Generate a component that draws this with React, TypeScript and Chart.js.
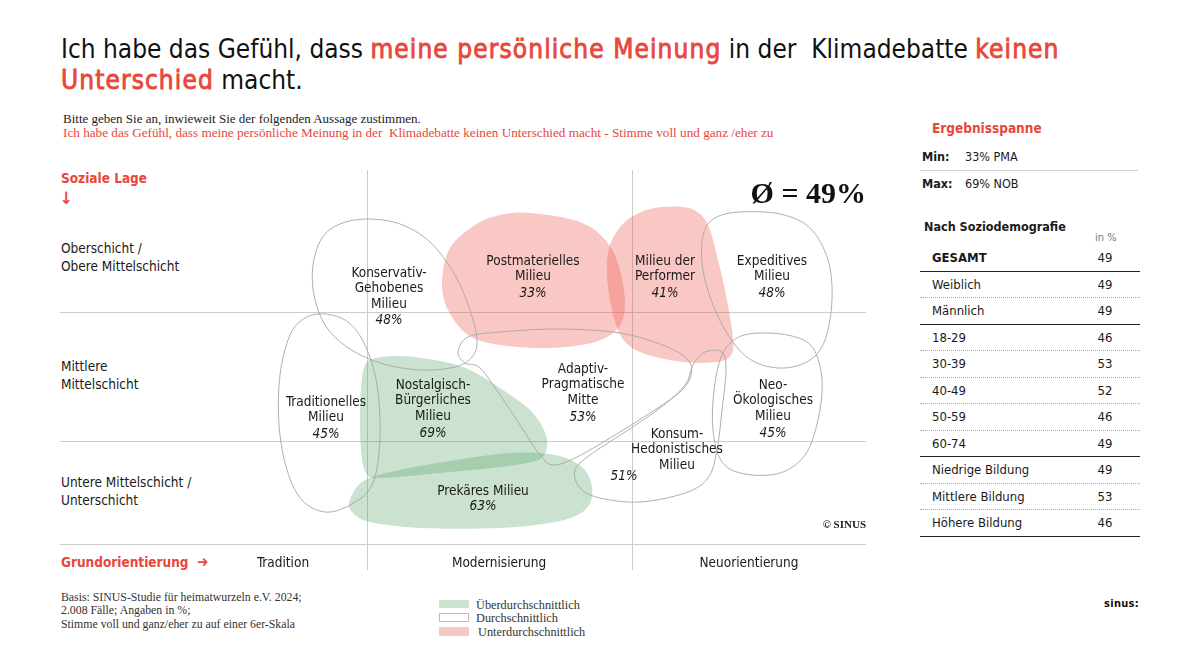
import React, { useEffect, useRef } from "react";
import { Chart, registerables } from "chart.js";

Chart.register(...registerables);

const RED = "#E8473B";
const SANS = "'DejaVu Sans Condensed', 'DejaVu Sans', sans-serif";
const SERIF = "'Liberation Serif', 'DejaVu Serif', serif";

// ---- Milieu data ----
const milieuNames = [
  "Konservativ-Gehobenes Milieu",
  "Postmaterielles Milieu",
  "Milieu der Performer",
  "Expeditives Milieu",
  "Traditionelles Milieu",
  "Nostalgisch-Bürgerliches Milieu",
  "Adaptiv-Pragmatische Mitte",
  "Neo-Ökologisches Milieu",
  "Konsum-Hedonistisches Milieu",
  "Prekäres Milieu",
];
const milieuValues = [48, 33, 41, 48, 45, 69, 53, 45, 51, 63];
const milieuClass = ["avg", "below", "below", "avg", "avg", "above", "avg", "avg", "avg", "above"];
const milieuLines = [
  ["Konservativ-", "Gehobenes", "Milieu"],
  ["Postmaterielles", "Milieu"],
  ["Milieu der", "Performer"],
  ["Expeditives", "Milieu"],
  ["Traditionelles", "Milieu"],
  ["Nostalgisch-", "Bürgerliches", "Milieu"],
  ["Adaptiv-", "Pragmatische", "Mitte"],
  ["Neo-", "Ökologisches", "Milieu"],
  ["Konsum-", "Hedonistisches", "Milieu"],
  ["Prekäres Milieu"],
];
const labelX = [32.9, 47.3, 60.5, 71.2, 26.6, 37.3, 52.3, 71.3, 61.7, 42.3];
const labelY = [10.3, 9.1, 9.1, 9.1, 23.2, 21.5, 19.9, 21.5, 26.4, 32.1];
const pctX = [32.9, 47.3, 60.5, 71.2, 26.6, 37.3, 52.3, 71.3, 56.4, 42.3];
const pctY = [15.0, 12.3, 12.3, 12.3, 26.4, 26.3, 24.7, 26.3, 30.6, 33.6];

// Milieu outlines on the map (x: Grundorientierung, y: soziale Lage, downwards)
const outlineKonservativ = [[30.7, 4.9], [34.0, 5.4], [37.0, 7.2], [39.5, 10.5], [41.0, 14.0], [41.7, 17.0], [41.2, 18.7], [39.5, 19.7], [36.0, 20.0], [32.0, 19.3], [28.7, 17.7], [26.5, 15.5], [25.4, 12.5], [25.3, 9.5], [26.2, 6.8], [28.0, 5.4]];
const outlinePostmateriell = [[47.0, 4.3], [52.0, 5.2], [54.7, 7.2], [56.0, 10.0], [56.5, 13.5], [55.8, 15.8], [53.5, 17.2], [49.0, 17.8], [44.0, 17.5], [40.8, 16.5], [38.8, 14.0], [38.2, 11.2], [39.0, 7.8], [41.5, 5.5], [44.0, 4.5]];
const outlinePerformer = [[62.3, 3.7], [64.0, 4.4], [65.0, 6.0], [65.8, 9.0], [66.6, 12.5], [67.2, 16.0], [67.3, 18.0], [66.5, 19.0], [64.0, 19.3], [61.0, 19.0], [58.0, 18.2], [56.2, 16.8], [55.2, 14.0], [54.7, 10.5], [55.0, 7.5], [56.5, 5.2], [59.0, 3.9]];
const outlineExpeditiv = [[68.0, 4.2], [72.0, 4.4], [75.0, 5.8], [76.8, 9.0], [77.2, 13.0], [76.5, 17.0], [75.0, 19.0], [72.5, 19.8], [69.7, 19.3], [67.5, 17.5], [65.5, 14.0], [64.3, 10.0], [64.3, 6.5], [65.5, 4.8]];
const outlineTraditionell = [[26.5, 14.4], [28.8, 15.2], [30.5, 17.5], [31.7, 21.5], [32.0, 27.0], [31.2, 31.5], [29.0, 33.5], [26.5, 34.2], [24.2, 33.0], [22.7, 30.0], [21.9, 25.5], [22.0, 20.5], [23.0, 16.5], [24.5, 14.8]];
const outlineNostalgisch = [[31.2, 18.9], [34.0, 18.6], [38.0, 19.1], [41.0, 20.0], [44.3, 22.0], [47.0, 24.0], [48.4, 26.0], [48.7, 27.7], [47.8, 29.0], [44.0, 29.7], [38.0, 30.3], [32.0, 30.8], [30.6, 30.3], [30.1, 28.0], [30.0, 25.0], [30.1, 22.0], [30.4, 19.8]];
const outlineAdaptiv = [[39.8, 18.2], [40.8, 16.7], [44.0, 16.2], [50.0, 15.9], [56.0, 16.3], [60.5, 17.6], [62.8, 19.0], [63.1, 20.5], [62.0, 22.2], [59.0, 24.3], [55.0, 26.8], [51.5, 28.8], [49.3, 29.5], [48.0, 28.5], [46.0, 25.5], [44.0, 22.5], [42.0, 19.8], [40.5, 19.3]];
const outlineNeoOeko = [[70.0, 16.3], [73.2, 16.6], [75.3, 17.8], [76.2, 21.0], [75.8, 25.0], [74.5, 28.5], [72.0, 30.3], [68.5, 30.4], [66.2, 29.2], [65.3, 26.0], [65.4, 22.0], [66.2, 18.5], [67.7, 16.8]];
const outlineKonsum = [[51.5, 30.0], [53.0, 28.5], [56.5, 26.2], [60.0, 23.8], [62.5, 21.5], [63.3, 19.5], [64.5, 18.2], [66.2, 18.2], [66.6, 20.0], [66.2, 24.0], [65.7, 28.0], [64.8, 30.8], [62.5, 32.3], [58.0, 33.2], [54.0, 32.8], [52.0, 31.8]];
const outlinePrekaer = [[29.0, 33.0], [30.2, 31.2], [33.0, 30.2], [39.0, 29.1], [45.0, 28.3], [49.5, 28.5], [52.2, 29.7], [53.2, 31.7], [52.7, 33.8], [50.0, 35.1], [44.0, 35.8], [36.0, 35.8], [31.0, 35.2], [29.2, 34.2]];
const outlines = [outlineKonservativ, outlinePostmateriell, outlinePerformer, outlineExpeditiv, outlineTraditionell, outlineNostalgisch, outlineAdaptiv, outlineNeoOeko, outlineKonsum, outlinePrekaer];

// grid
const mapXMax = 80.6;
const mapYMax = 37.4;
const gridRows = [14.2, 27.1, 37.4];
const gridCols = [30.7, 57.2];
const gridColsEnd = 40.0;
const orientationLabels = ["Tradition", "Modernisierung", "Neuorientierung"];
const orientationX = [22.3, 43.9, 68.9];
const orientationY = 39.3;

// Soziodemografie
const socioLabels = ["GESAMT", "Weiblich", "Männlich", "18-29", "30-39", "40-49", "50-59", "60-74", "Niedrige Bildung", "Mittlere Bildung", "Höhere Bildung"];
const socioValues = [49, 49, 49, 46, 53, 52, 46, 49, 49, 53, 46];
const socioGroupEnds = [0, 2, 7, 10];

const FILLS: Record<string, string> = {
  above: "rgba(80,160,95,0.30)",
  below: "rgba(235,85,70,0.32)",
  avg: "rgba(0,0,0,0)",
};

function smoothClosed(ctx: CanvasRenderingContext2D, pts: { x: number; y: number }[]) {
  const n = pts.length;
  ctx.beginPath();
  ctx.moveTo(pts[0].x, pts[0].y);
  for (let i = 0; i < n; i++) {
    const p0 = pts[(i - 1 + n) % n];
    const p1 = pts[i];
    const p2 = pts[(i + 1) % n];
    const p3 = pts[(i + 2) % n];
    const c1x = p1.x + (p2.x - p0.x) / 6;
    const c1y = p1.y + (p2.y - p0.y) / 6;
    const c2x = p2.x - (p3.x - p1.x) / 6;
    const c2y = p2.y - (p3.y - p1.y) / 6;
    ctx.bezierCurveTo(c1x, c1y, c2x, c2y, p2.x, p2.y);
  }
  ctx.closePath();
}

const milieuPlugin = {
  id: "milieuMap",
  beforeDatasetsDraw(chart: any) {
    const ctx: CanvasRenderingContext2D = chart.ctx;
    const xs = chart.scales.x;
    const ys = chart.scales.y;
    ctx.save();
    // grid
    ctx.strokeStyle = "#cccccc";
    ctx.lineWidth = 1;
    gridRows.forEach((v) => {
      const y = Math.round(ys.getPixelForValue(v)) + 0.5;
      ctx.beginPath();
      ctx.moveTo(xs.getPixelForValue(0), y);
      ctx.lineTo(xs.getPixelForValue(mapXMax), y);
      ctx.stroke();
    });
    gridCols.forEach((v) => {
      const x = Math.round(xs.getPixelForValue(v)) + 0.5;
      ctx.beginPath();
      ctx.moveTo(x, ys.getPixelForValue(0));
      ctx.lineTo(x, ys.getPixelForValue(gridColsEnd));
      ctx.stroke();
    });
    // fills
    chart.data.datasets.forEach((ds: any, i: number) => {
      const meta = chart.getDatasetMeta(i);
      const pts = meta.data.map((e: any) => ({ x: e.x, y: e.y }));
      const cls = milieuClass[i];
      if (cls !== "avg") {
        smoothClosed(ctx, pts);
        ctx.fillStyle = FILLS[cls];
        ctx.fill();
      }
    });
    // outlines for average milieus
    chart.data.datasets.forEach((ds: any, i: number) => {
      const meta = chart.getDatasetMeta(i);
      const pts = meta.data.map((e: any) => ({ x: e.x, y: e.y }));
      if (milieuClass[i] === "avg") {
        smoothClosed(ctx, pts);
        ctx.strokeStyle = "#a6a6a6";
        ctx.lineWidth = 0.9;
        ctx.stroke();
      }
    });
    ctx.restore();
  },
  afterDatasetsDraw(chart: any) {
    const ctx: CanvasRenderingContext2D = chart.ctx;
    const xs = chart.scales.x;
    const ys = chart.scales.y;
    ctx.save();
    ctx.textAlign = "center";
    ctx.textBaseline = "middle";
    ctx.fillStyle = "#1a1a1a";
    milieuLines.forEach((lines, i) => {
      const x = xs.getPixelForValue(labelX[i]);
      const y0 = ys.getPixelForValue(labelY[i]);
      ctx.font = `13.5px ${SANS}`;
      lines.forEach((t, k) => ctx.fillText(t, x, y0 + k * 15.8));
      ctx.font = `italic 13.5px ${SANS}`;
      ctx.fillText(`${milieuValues[i]}%`, xs.getPixelForValue(pctX[i]), ys.getPixelForValue(pctY[i]));
    });
    ctx.font = `13.5px ${SANS}`;
    orientationLabels.forEach((t, i) => {
      ctx.fillText(t, xs.getPixelForValue(orientationX[i]), ys.getPixelForValue(orientationY));
    });
    ctx.restore();
  },
};

function MilieuMap() {
  const ref = useRef<HTMLCanvasElement | null>(null);
  useEffect(() => {
    if (!ref.current) return;
    const chart = new Chart(ref.current, {
      type: "scatter",
      data: {
        datasets: outlines.map((o, i) => ({
          label: milieuNames[i],
          data: o.map(([x, y]) => ({ x, y })),
          pointRadius: 0,
          pointHoverRadius: 0,
          showLine: false,
        })),
      },
      options: {
        responsive: false,
        maintainAspectRatio: false,
        animation: false,
        events: [],
        layout: { padding: { left: 0, right: 0, top: 0, bottom: 36 } },
        scales: {
          x: { type: "linear", min: 0, max: mapXMax, display: false },
          y: { type: "linear", min: 0, max: mapYMax, reverse: true, display: false },
        },
        plugins: { legend: { display: false }, tooltip: { enabled: false } },
      },
      plugins: [milieuPlugin],
    });
    return () => chart.destroy();
  }, []);
  return (
    <canvas
      ref={ref}
      width={806}
      height={410}
      style={{ position: "absolute", left: 60, top: 170, width: 806, height: 410 }}
    />
  );
}

const abs = (left: number, top: number, extra: React.CSSProperties = {}): React.CSSProperties => ({
  position: "absolute",
  left,
  top,
  whiteSpace: "nowrap",
  ...extra,
});

const redBold: React.CSSProperties = {
  color: RED,
  letterSpacing: "1.1px",
  WebkitTextStroke: `0.8px ${RED}`,
};

export default function App() {
  const rowTop = 245;
  const rowH = 26.5;
  return (
    <div
      style={{
        position: "absolute",
        left: 0,
        top: 0,
        width: 1198,
        height: 670,
        overflow: "hidden",
        background: "#fff",
        fontFamily: SANS,
        color: "#1a1a1a",
      }}
    >
      <div style={abs(61, 34, { fontSize: 26, lineHeight: "31px", color: "#111" })}>
        Ich habe das Gefühl, dass <span style={redBold}>meine persönliche Meinung</span> in der&nbsp; Klimadebatte{" "}
        <span style={redBold}>keinen</span>
        <br />
        <span style={redBold}>Unterschied</span> macht.
      </div>
      <div style={abs(63, 111, { fontFamily: SERIF, fontSize: 13, lineHeight: "15px", color: "#222" })}>
        Bitte geben Sie an, inwieweit Sie der folgenden Aussage zustimmen.
      </div>
      <div style={abs(63, 125, { fontFamily: SERIF, fontSize: 13.2, lineHeight: "15px", color: RED })}>
        Ich habe das Gefühl, dass meine persönliche Meinung in der&nbsp; Klimadebatte keinen Unterschied macht - Stimme voll und ganz /eher zu
      </div>

      {/* left axis labels */}
      <div style={abs(61, 170, { fontSize: 13.5, lineHeight: "17px", color: RED, fontWeight: "bold" })}>Soziale Lage</div>
      <div style={abs(60, 188, { fontSize: 17, lineHeight: "20px", color: RED, fontWeight: "bold" })}>↓</div>
      <div style={abs(61, 240, { fontSize: 13.5, lineHeight: "17.5px" })}>
        Oberschicht /<br />Obere Mittelschicht
      </div>
      <div style={abs(61, 358, { fontSize: 13.5, lineHeight: "17.5px" })}>
        Mittlere<br />Mittelschicht
      </div>
      <div style={abs(61, 474, { fontSize: 13.5, lineHeight: "17.5px" })}>
        Untere Mittelschicht /<br />Unterschicht
      </div>
      <div style={abs(61, 554, { fontSize: 13.5, lineHeight: "17px", color: RED, fontWeight: "bold" })}>
        Grundorientierung&nbsp; <span style={{ fontSize: 15 }}>➜</span>
      </div>

      <MilieuMap />

      <div style={abs(0, 176, { width: 866, textAlign: "right", fontFamily: SERIF, fontWeight: "bold", fontSize: 30, lineHeight: "34px", color: "#111" })}>
        Ø = 49%
      </div>
      <div style={abs(0, 517, { width: 866, textAlign: "right", fontFamily: SERIF, fontWeight: "bold", fontSize: 11, lineHeight: "14px", color: "#222" })}>
        © SINUS
      </div>

      {/* footer */}
      <div style={abs(61, 591, { fontFamily: SERIF, fontSize: 11.8, lineHeight: "13.3px", color: "#333" })}>
        Basis: SINUS-Studie für heimatwurzeln e.V. 2024;<br />
        2.008 Fälle; Angaben in %;<br />
        Stimme voll und ganz/eher zu auf einer 6er-Skala
      </div>
      <div style={abs(439, 600, { width: 30, height: 8, background: "#CDE3D0" })} />
      <div style={abs(439, 613, { width: 28, height: 7, border: "1px solid #bbb" })} />
      <div style={abs(439, 627, { width: 30, height: 9, background: "#F7C9C5" })} />
      <div style={abs(476, 598, { fontFamily: SERIF, fontSize: 12.3, lineHeight: "15px", color: "#333" })}>Überdurchschnittlich</div>
      <div style={abs(476, 611, { fontFamily: SERIF, fontSize: 12.3, lineHeight: "15px", color: "#333" })}>Durchschnittlich</div>
      <div style={abs(478, 625, { fontFamily: SERIF, fontSize: 12.3, lineHeight: "15px", color: "#333" })}>Unterdurchschnittlich</div>
      <div style={abs(1104, 597, { fontSize: 11, fontWeight: "bold", lineHeight: "14px", color: "#111", letterSpacing: 0.3 })}>sinus:</div>

      {/* right panel */}
      <div style={abs(932, 120, { fontSize: 13.5, lineHeight: "17px", color: RED, fontWeight: "bold" })}>Ergebnisspanne</div>
      <div style={abs(922, 149, { fontSize: 12.5, lineHeight: "16px", fontWeight: "bold" })}>Min:</div>
      <div style={abs(965, 149, { fontSize: 12.5, lineHeight: "16px" })}>33% PMA</div>
      <div style={abs(920, 170, { width: 218, height: 1, background: "#d0d0d0" })} />
      <div style={abs(922, 176, { fontSize: 12.5, lineHeight: "16px", fontWeight: "bold" })}>Max:</div>
      <div style={abs(965, 176, { fontSize: 12.5, lineHeight: "16px" })}>69% NOB</div>
      <div style={abs(924, 219, { fontSize: 12.5, lineHeight: "16px", fontWeight: "bold" })}>Nach Soziodemografie</div>
      <div style={abs(1095, 231, { fontSize: 11, lineHeight: "14px", color: "#777" })}>in %</div>

      {socioLabels.map((lab, i) => {
        const top = rowTop + i * rowH;
        const solid = socioGroupEnds.includes(i);
        return (
          <React.Fragment key={lab}>
            <div
              style={abs(932, top, {
                fontSize: 13,
                lineHeight: `${rowH}px`,
                fontWeight: i === 0 ? "bold" : "normal",
              })}
            >
              {lab}
            </div>
            <div style={abs(1080, top, { width: 50, textAlign: "center", fontSize: 13, lineHeight: `${rowH}px` })}>
              {socioValues[i]}
            </div>
            <div
              style={abs(920, top + rowH - 1, {
                width: 220,
                height: 0,
                borderTop: solid ? "1.5px solid #222" : "1px dotted #aaa",
              })}
            />
          </React.Fragment>
        );
      })}
    </div>
  );
}
